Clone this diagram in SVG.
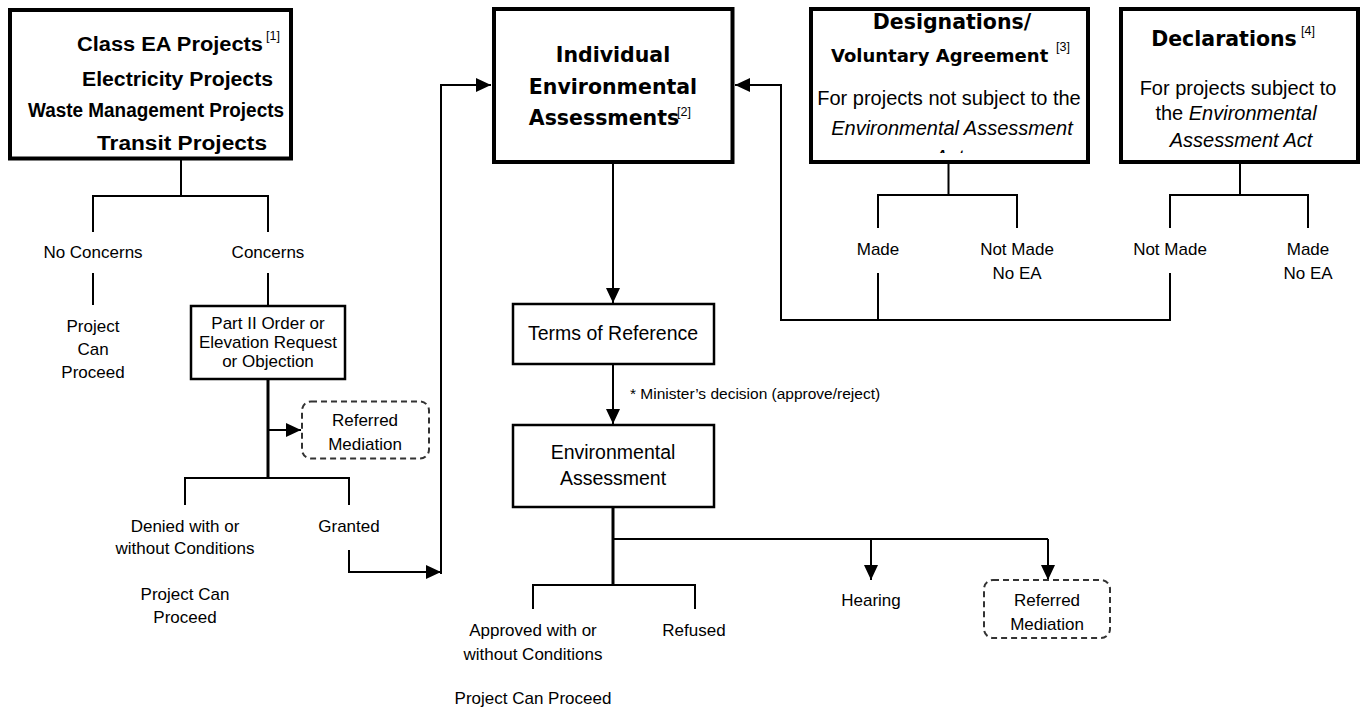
<svg xmlns="http://www.w3.org/2000/svg" width="1368" height="709" viewBox="0 0 1368 709">
<style>
.box{fill:#fff;stroke:#000;stroke-width:4}
.sbox{fill:#fff;stroke:#000;stroke-width:2.5}
.dbox{fill:#fff;stroke:#333;stroke-width:2;stroke-dasharray:6 4}
.ln{fill:none;stroke:#000;stroke-width:2}
.thk{stroke-width:3}
.t{font-family:"Liberation Sans",Arial,sans-serif;font-size:17px;fill:#000;text-anchor:middle}
.tm{font-family:"Liberation Sans",Arial,sans-serif;font-size:19.5px;fill:#000;text-anchor:middle}
.b1{font-family:"Liberation Sans",Arial,sans-serif;font-size:19.5px;font-weight:bold;fill:#000}
.ti{font-family:"DejaVu Sans",Verdana,sans-serif;font-size:20.5px;font-weight:bold;fill:#000;text-anchor:middle}
.bd{font-family:"Liberation Sans",Arial,sans-serif;font-size:20px;fill:#000;text-anchor:middle}
.sup{font-family:"Liberation Sans",Arial,sans-serif;font-size:12.5px;font-weight:normal;fill:#000}
.it{font-style:italic}
</style>
<defs>
<marker id="ah" viewBox="0 0 15 14" refX="15" refY="7" markerWidth="15" markerHeight="14" markerUnits="userSpaceOnUse" orient="auto">
<path d="M0,0 L15,7 L0,14 z" fill="#000"/>
</marker>
<clipPath id="clip3"><rect x="812" y="11" width="275" height="142"/></clipPath>
</defs>

<g id="connectors">
<path class="ln" d="M181,160 V196 M93,232 V196 H268 V232"/>
<path class="ln" d="M93,273 V305"/>
<path class="ln" d="M268,273 V306"/>
<path class="ln thk" d="M268,379 V478"/>
<path class="ln" d="M268,430 H301" marker-end="url(#ah)"/>
<path class="ln" d="M185,505 V478 H349 V505"/>
<path class="ln" d="M349,550 V572 H441" marker-end="url(#ah)"/>
<path class="ln" d="M441,574 V85 H491" marker-end="url(#ah)"/>
<path class="ln" d="M613,162 V303" marker-end="url(#ah)"/>
<path class="ln" d="M613,364 V424" marker-end="url(#ah)"/>
<path class="ln thk" d="M613,507 V585"/>
<path class="ln" d="M613,539 H1048"/>
<path class="ln" d="M871,539 V580" marker-end="url(#ah)"/>
<path class="ln" d="M1048,539 V580" marker-end="url(#ah)"/>
<path class="ln" d="M533,609 V585 H695 V609"/>
<path class="ln" d="M948.5,162 V195 M878,228 V195 H1017 V228"/>
<path class="ln" d="M1240,162 V195 M1170,228 V195 H1308 V228"/>
<path class="ln" d="M878,273 V320"/>
<path class="ln" d="M1170,273 V320 H781 V85 H735" marker-end="url(#ah)"/>
</g>

<g id="class-ea">
<rect class="box" x="10" y="10" width="281" height="148.5"/>
<text class="b1" x="77" y="50.7" textLength="186" lengthAdjust="spacingAndGlyphs">Class EA Projects</text>
<text class="sup" x="266" y="40">[1]</text>
<text class="b1" x="82" y="85.7" textLength="191" lengthAdjust="spacingAndGlyphs">Electricity Projects</text>
<text class="b1" x="28" y="116.7" textLength="256" lengthAdjust="spacingAndGlyphs">Waste Management Projects</text>
<text class="b1" x="97" y="150" textLength="170" lengthAdjust="spacingAndGlyphs">Transit Projects</text>
</g>

<g id="individual-ea">
<rect class="box" x="494" y="9" width="238.5" height="153"/>
<text class="ti" x="613" y="61.7">Individual</text>
<text class="ti" x="613" y="94">Environmental</text>
<text class="ti" x="604" y="125">Assessments</text>
<text class="sup" x="677" y="116">[2]</text>
</g>

<g id="designations">
<g clip-path="url(#clip3)">
<text class="ti" x="952" y="29">Designations/</text>
<text class="ti" x="831" y="61.7" style="text-anchor:start;font-size:18px">Voluntary Agreement</text>
<text class="sup" x="1056" y="51">[3]</text>
<text class="bd" x="949" y="105">For projects not subject to the</text>
<text class="bd it" x="952" y="135">Environmental Assessment</text>
<text class="bd it" x="949" y="164">Act</text>
</g>
<rect class="box" x="811" y="9" width="277" height="153" style="fill:none"/>
</g>

<g id="declarations">
<rect class="box" x="1121" y="9" width="237" height="153"/>
<text class="ti" x="1224" y="45.7">Declarations</text>
<text class="sup" x="1301" y="35">[4]</text>
<text class="bd" x="1238" y="95">For projects subject to</text>
<text class="bd" x="1236" y="120">the <tspan class="it">Environmental</tspan></text>
<text class="bd it" x="1241" y="146.7">Assessment Act</text>
</g>

<g id="no-concerns">
<text class="t" x="93" y="258">No Concerns</text>
<text class="t" x="93" y="332">Project</text>
<text class="t" x="93" y="355">Can</text>
<text class="t" x="93" y="378">Proceed</text>
</g>

<g id="concerns">
<text class="t" x="268" y="258">Concerns</text>
</g>

<g id="part-ii">
<rect class="sbox" x="191" y="306" width="154" height="73"/>
<text class="t" x="268" y="329">Part II Order or</text>
<text class="t" x="268" y="348">Elevation Request</text>
<text class="t" x="268" y="367">or Objection</text>
</g>

<g id="referred-mediation-1">
<rect class="dbox" x="302" y="401.5" width="127" height="57" rx="9"/>
<text class="t" x="365" y="426">Referred</text>
<text class="t" x="365" y="449.5">Mediation</text>
</g>

<g id="denied">
<text class="t" x="185" y="532">Denied with or</text>
<text class="t" x="185" y="554">without Conditions</text>
<text class="t" x="185" y="600">Project Can</text>
<text class="t" x="185" y="623">Proceed</text>
</g>

<g id="granted">
<text class="t" x="349" y="532">Granted</text>
</g>

<g id="terms-of-reference">
<rect class="sbox" x="513" y="304" width="201" height="60"/>
<text class="tm" x="613" y="340">Terms of Reference</text>
</g>

<g id="minister-label">
<text class="t" x="630" y="399" style="text-anchor:start;font-size:15.5px">* Minister’s decision (approve/reject)</text>
</g>

<g id="environmental-assessment">
<rect class="sbox" x="513" y="425" width="201" height="82"/>
<text class="tm" x="613" y="458.5">Environmental</text>
<text class="tm" x="613" y="485">Assessment</text>
</g>

<g id="approved">
<text class="t" x="533" y="636">Approved with or</text>
<text class="t" x="533" y="659.5">without Conditions</text>
<text class="t" x="533" y="704">Project Can Proceed</text>
</g>

<g id="refused">
<text class="t" x="694" y="636">Refused</text>
</g>

<g id="hearing">
<text class="t" x="871" y="605.5">Hearing</text>
</g>

<g id="referred-mediation-2">
<rect class="dbox" x="984" y="580" width="126" height="58" rx="9"/>
<text class="t" x="1047" y="606">Referred</text>
<text class="t" x="1047" y="630">Mediation</text>
</g>

<g id="designation-made">
<text class="t" x="878" y="254.5">Made</text>
</g>
<g id="designation-not-made">
<text class="t" x="1017" y="254.5">Not Made</text>
<text class="t" x="1017" y="279">No EA</text>
</g>
<g id="declaration-not-made">
<text class="t" x="1170" y="254.5">Not Made</text>
</g>
<g id="declaration-made">
<text class="t" x="1308" y="254.5">Made</text>
<text class="t" x="1308" y="279">No EA</text>
</g>
</svg>
